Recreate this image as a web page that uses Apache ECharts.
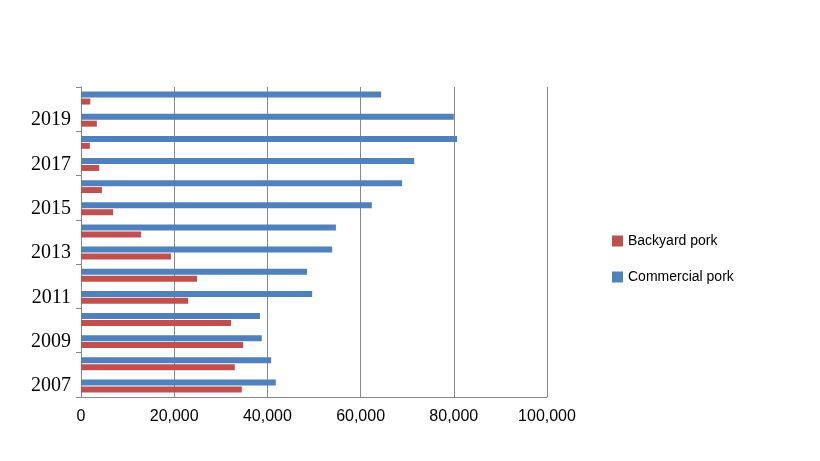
<!DOCTYPE html>
<html><head><meta charset="utf-8">
<script src="https://cdn.jsdelivr.net/npm/echarts@6/dist/echarts.min.js"></script>
<style>html,body{margin:0;padding:0;background:#fff}#c{width:820px;height:461px}</style>
</head><body><div id="c"></div>
<script>
const years = ['2007','2008','2009','2010','2011','2012','2013','2014','2015','2016','2017','2018','2019','2020'];
const backyard = [34500,33000,34800,32200,23000,24900,19300,12900,6900,4500,3900,1900,3400,2000];
const commercial = [41800,40800,38800,38400,49600,48500,53900,54700,62400,68900,71500,80700,80000,64400];
const chart = echarts.init(document.getElementById('c'));
chart.setOption({
  backgroundColor:'#fff',
  animation:false,
  grid:{left:81,right:273,top:87,bottom:64},
  legend:{orient:'vertical',left:607,top:229,itemGap:22,itemWidth:11,itemHeight:11,icon:'rect',
    data:['Backyard pork','Commercial pork'],textStyle:{fontFamily:'Liberation Sans',fontSize:14,color:'#000'}},
  xAxis:{type:'value',min:0,max:100000,interval:20000,
    axisLabel:{fontFamily:'Liberation Sans',fontSize:16,color:'#000',margin:12,
      formatter:v=>v.toLocaleString('en-US')},
    axisLine:{show:true,lineStyle:{color:'#888'}},axisTick:{show:false},
    splitLine:{lineStyle:{color:'#888',width:1}}},
  yAxis:{type:'category',data:years,
    axisLabel:{interval:1,fontFamily:'Liberation Serif',fontSize:20,color:'#000',margin:10},
    axisLine:{lineStyle:{color:'#888'}},axisTick:{show:true,length:5,lineStyle:{color:'#888'}}},
  series:[
    {name:'Commercial pork',type:'bar',data:commercial,itemStyle:{color:'#4F81BD'},barWidth:6,barGap:'15%'},
    {name:'Backyard pork',type:'bar',data:backyard,itemStyle:{color:'#C0504D'},barWidth:6}
  ]
});
</script></body></html>
